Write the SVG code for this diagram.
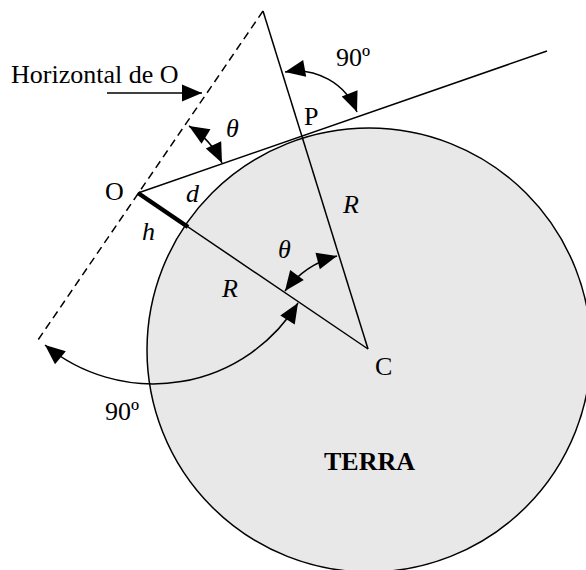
<svg xmlns="http://www.w3.org/2000/svg" width="586" height="570" viewBox="0 0 586 570">
<defs>
<marker id="ah" markerUnits="userSpaceOnUse" markerWidth="20" markerHeight="17" refX="20" refY="8.5" orient="auto-start-reverse" overflow="visible">
<path d="M0,0 L20,8.5 L0,17 Z" fill="#000"/>
</marker>
<style>
.ln{stroke:#000;stroke-width:1.5;fill:none}
.arc{stroke:#000;stroke-width:1.5;fill:none;marker-start:url(#ah);marker-end:url(#ah)}
.t{font-family:"Liberation Serif","Times New Roman",serif;font-size:26px;fill:#000}
.i{font-style:italic}
</style>
</defs>
<rect width="586" height="570" fill="#fff"/>
<g id="terra">
<circle cx="369" cy="350" r="222" fill="#e8e8e8" stroke="#000" stroke-width="1.5"/>
<text class="t" x="324" y="470" font-weight="bold" font-size="28">TERRA</text>
</g>
<g id="connectors">
<line class="ln" x1="263" y1="11" x2="38" y2="340" stroke-dasharray="8,5"/>
<line class="ln" x1="263" y1="11" x2="368" y2="349"/>
<line class="ln" x1="138" y1="193" x2="368" y2="349"/>
<line class="ln" x1="138" y1="193" x2="547" y2="51"/>
<line x1="138" y1="193" x2="188" y2="227" stroke="#000" stroke-width="4.5"/>
<line class="ln" x1="107" y1="93" x2="202" y2="93" marker-end="url(#ah)"/>
<path class="arc" d="M285,72 A65,65 0 0 1 357,112"/>
<path class="arc" d="M189,126 A87,87 0 0 1 222,163"/>
<path class="arc" d="M285,291 A95,95 0 0 1 337,256"/>
<path class="arc" d="M45,345 A170,170 0 0 0 298,303"/>
</g>
<g id="labels">
<text class="t" x="11" y="83" font-size="26.5">Horizontal de O</text>
<text class="t" x="105" y="200">O</text>
<text class="t" x="304" y="125">P</text>
<text class="t" x="375" y="375">C</text>
<text class="t" x="336" y="66">90º</text>
<text class="t" x="105" y="420">90º</text>
<text class="t i" x="226" y="137" font-size="22">θ</text>
<text class="t i" x="278" y="258" font-size="22">θ</text>
<text class="t i" x="186" y="202" font-size="24">d</text>
<text class="t i" x="142" y="240" font-size="24">h</text>
<text class="t i" x="222" y="297">R</text>
<text class="t i" x="343" y="213">R</text>
</g>
</svg>
